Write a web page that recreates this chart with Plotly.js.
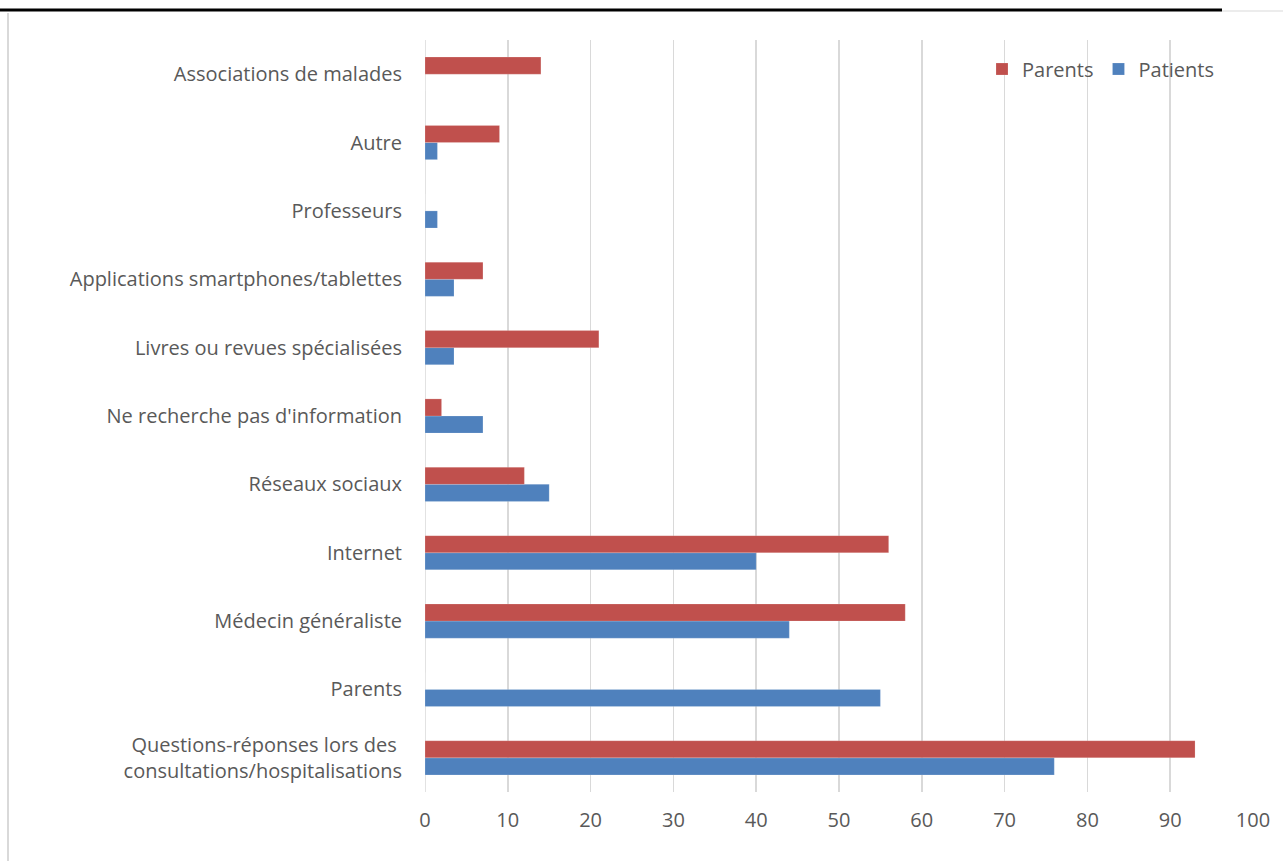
<!DOCTYPE html>
<html>
<head>
<meta charset="utf-8">
<script src="https://cdn.plot.ly/plotly-3.0.1.min.js"></script>
<style>
html,body{margin:0;padding:0;background:#fff;}
#chart{width:1283px;height:861px;}
</style>
</head>
<body>
<div id="chart"></div>
<script>
const categories = [
  "Questions-réponses lors des <br>consultations/hospitalisations",
  "Parents",
  "Médecin généraliste",
  "Internet",
  "Réseaux sociaux",
  "Ne recherche pas d'information",
  "Livres ou revues spécialisées",
  "Applications smartphones/tablettes",
  "Professeurs",
  "Autre",
  "Associations de malades"
];
const patientsValues = [76, 55, 44, 40, 15, 7, 3.5, 3.5, 1.5, 1.5, 0];
const parentsValues  = [93, 0, 58, 56, 12, 2, 21, 7, 0, 9, 14];
const xTicks = [0, 10, 20, 30, 40, 50, 60, 70, 80, 90, 100];

const W = 1283, H = 861;
const L = 425, R = 30, T = 40, B = 69;
const pw = W - L - R, ph = H - T - B;
function px(x){ return (x - L) / pw; }
function py(y){ return (H - B - y) / ph; }

const traces = [
  {type:'bar', orientation:'h', name:'Patients', y:categories, x:patientsValues,
   marker:{color:'#4F81BD', line:{color:'rgba(255,255,255,0.35)', width:0.5}}},
  {type:'bar', orientation:'h', name:'Parents', y:categories, x:parentsValues,
   marker:{color:'#C0504D', line:{color:'rgba(255,255,255,0.35)', width:0.5}}}
];

const layout = {
  width: W, height: H,
  margin:{l:L, r:R, t:T, b:B, pad:0, autoexpand:false},
  paper_bgcolor:'#ffffff', plot_bgcolor:'#ffffff',
  font:{family:'"Open Sans", Lato, sans-serif', size:20, color:'#595959'},
  barmode:'group', bargap:0.5, bargroupgap:0,
  showlegend:true,
  legend:{orientation:'h', traceorder:'reversed', x:px(982), xanchor:'left', y:py(69), yanchor:'middle',
          font:{size:20, color:'#595959'}, bgcolor:'rgba(0,0,0,0)', itemwidth:30, tracegroupgap:0},
  xaxis:{range:[0,100], tickvals:xTicks, showgrid:true, gridcolor:'#d9d9d9', gridwidth:1.5,
         zeroline:false, showline:false, ticks:'', ticklabelstandoff:14, fixedrange:true},
  yaxis:{type:'category', categoryorder:'array', categoryarray:categories, showgrid:false,
         zeroline:false, showline:false, ticks:'', ticklabelstandoff:22, automargin:false},
  shapes:[
    {type:'line', xref:'paper', yref:'paper', x0:px(0), x1:px(1222), y0:py(10), y1:py(10),
     line:{color:'#000000', width:3}},
    {type:'line', xref:'paper', yref:'paper', x0:px(1222), x1:px(1283), y0:py(11), y1:py(11),
     line:{color:'#d9d9d9', width:1}},
    {type:'line', xref:'paper', yref:'paper', x0:px(8), x1:px(8), y0:py(13), y1:py(861),
     line:{color:'#d9d9d9', width:2}},
    {type:'line', xref:'x', yref:'paper', x0:0, x1:0, y0:0, y1:1,
     line:{color:'#d9d9d9', width:1.5}, layer:'below'}
  ]
};

Plotly.newPlot('chart', traces, layout, {displayModeBar:false, staticPlot:true});
</script>
</body>
</html>
